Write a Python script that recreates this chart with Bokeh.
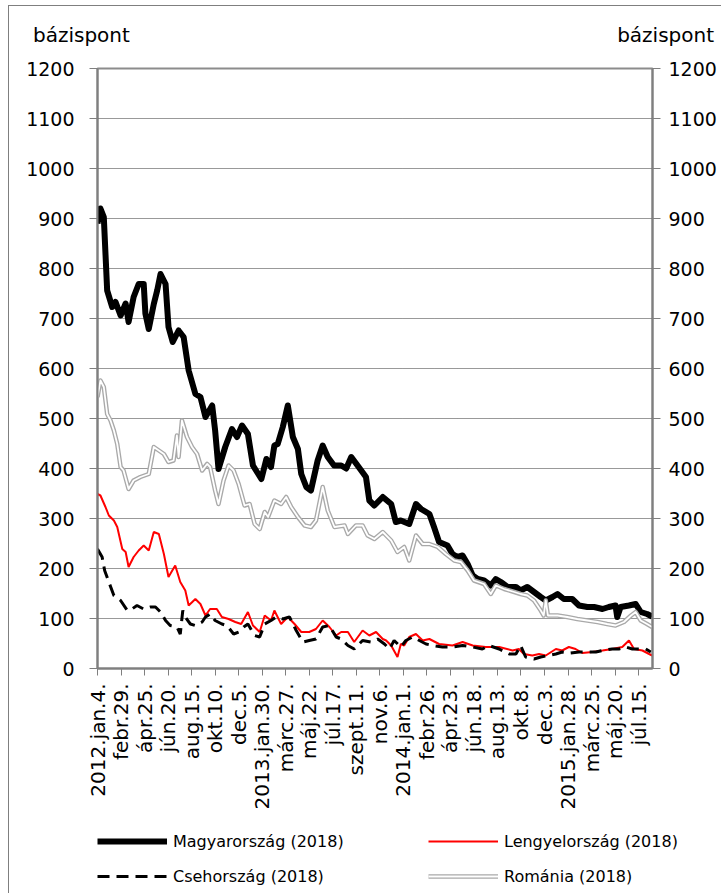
import numpy as np
from bokeh.plotting import figure
from bokeh.layouts import column
from bokeh.models import (Range1d, LinearAxis, FixedTicker, SingleIntervalTicker,
                          Legend, LegendItem, Div)
from bokeh.embed import file_html
from bokeh.resources import INLINE

# ---------------- data (days since 2012-01-04, basis points) ----------------
tick_dates = ["2012-01-04", "2012-02-29", "2012-04-25", "2012-06-20", "2012-08-15",
              "2012-10-10", "2012-12-05", "2013-01-30", "2013-03-27", "2013-05-22",
              "2013-07-17", "2013-09-11", "2013-11-06", "2014-01-01", "2014-02-26",
              "2014-04-23", "2014-06-18", "2014-08-13", "2014-10-08", "2014-12-03",
              "2015-01-28", "2015-03-25", "2015-05-20", "2015-07-15"]
tick_labels = ["2012.jan.4.", "febr.29.", "ápr.25.", "jún.20.", "aug.15.", "okt.10.",
               "dec.5.", "2013.jan.30.", "márc.27.", "máj.22.", "júl.17.", "szept.11.",
               "nov.6.", "2014.jan.1.", "febr.26.", "ápr.23.", "jún.18.", "aug.13.",
               "okt.8.", "dec.3.", "2015.jan.28.", "márc.25.", "máj.20.", "júl.15."]

hu_day = [0, 7, 15, 23, 35, 43, 55, 67, 74, 86, 98, 110, 114, 122, 134, 142, 150, 162,
          169, 179, 193, 205, 217, 233, 245, 257, 273, 280, 288, 304, 320, 332, 344, 358,
          370, 390, 402, 413, 421, 429, 441, 453, 465, 477, 485, 497, 508, 524, 536, 548,
          563, 580, 592, 604, 619, 639, 647, 659, 679, 699, 710, 722, 742, 758, 770, 790,
          801, 813, 833, 845, 857, 869, 881, 893, 905, 920, 936, 948, 960, 976, 996, 1007,
          1023, 1039, 1055, 1067, 1083, 1095, 1110, 1130, 1146, 1166, 1182, 1202, 1217,
          1233, 1237, 1245, 1265, 1281, 1293, 1308, 1320]
hu_bp = [890, 920, 903, 756, 723, 733, 706, 730, 693, 743, 769, 769, 710, 679, 729, 756,
         789, 769, 683, 653, 676, 663, 596, 549, 543, 503, 526, 476, 399, 443, 479, 463,
         486, 469, 406, 379, 419, 403, 446, 449, 483, 526, 463, 439, 389, 363, 356, 416,
         446, 423, 406, 406, 400, 423, 406, 383, 336, 326, 343, 329, 293, 296, 289, 329,
         319, 309, 283, 253, 246, 229, 223, 226, 209, 186, 179, 176, 166, 179, 173, 163,
         163, 156, 163, 153, 143, 136, 143, 149, 139, 139, 126, 123, 123, 119, 123, 126,
         103, 123, 126, 129, 113, 109, 104]

pl_day = [0, 7, 19, 27, 39, 47, 59, 67, 74, 86, 98, 110, 122, 134, 146, 158, 169, 185,
          197, 209, 217, 233, 245, 257, 268, 284, 296, 312, 328, 342, 358, 370, 386, 398,
          413, 421, 437, 453, 469, 485, 504, 520, 536, 552, 568, 580, 596, 611, 631, 647,
          663, 679, 687, 699, 714, 722, 730, 742, 758, 774, 790, 813, 845, 869, 893, 924,
          956, 988, 1003, 1015, 1035, 1051, 1067, 1091, 1106, 1122, 1138, 1154, 1178,
          1202, 1225, 1249, 1265, 1277, 1297, 1313, 1320]
pl_bp = [349, 346, 323, 306, 296, 283, 239, 233, 203, 223, 236, 246, 236, 273, 269, 229,
         183, 206, 173, 156, 126, 139, 129, 106, 119, 119, 103, 99, 93, 89, 113, 86, 73,
         106, 96, 116, 89, 103, 89, 73, 73, 79, 96, 83, 66, 73, 73, 53, 76, 66, 73, 59,
         56, 46, 23, 49, 46, 63, 69, 56, 59, 49, 46, 53, 46, 43, 43, 36, 39, 29, 26, 29,
         26, 39, 36, 43, 39, 31, 33, 36, 39, 43, 56, 39, 36, 29, 26]

cz_day = [0, 11, 17, 27, 39, 55, 71, 82, 94, 110, 126, 138, 150, 162, 173, 189, 197,
          203, 209, 221, 233, 249, 257, 268, 280, 296, 308, 324, 336, 348, 358, 374, 386,
          398, 413, 425, 441, 457, 473, 489, 504, 520, 536, 552, 568, 580, 596, 611, 631,
          651, 667, 683, 695, 706, 722, 734, 750, 766, 782, 798, 821, 845, 869, 893, 916,
          932, 956, 980, 996, 1007, 1019, 1039, 1055, 1074, 1091, 1106, 1126, 1146, 1166,
          1186, 1202, 1225, 1241, 1257, 1273, 1289, 1305, 1317]
cz_bp = [239, 223, 196, 173, 146, 136, 116, 119, 126, 119, 123, 123, 113, 96, 86, 83, 69,
         116, 103, 89, 86, 93, 103, 109, 96, 89, 86, 69, 73, 83, 89, 66, 63, 89, 96, 103,
         99, 103, 76, 53, 56, 59, 83, 86, 63, 59, 46, 39, 56, 53, 59, 49, 39, 56, 43, 56,
         63, 56, 49, 46, 43, 43, 46, 43, 39, 46, 39, 29, 29, 46, 23, 19, 23, 26, 29, 33,
         31, 33, 33, 33, 36, 39, 39, 43, 39, 39, 39, 33]

ro_day = [0, 7, 15, 23, 31, 39, 47, 55, 62, 74, 86, 102, 122, 134, 146, 158, 169, 181,
          189, 193, 201, 213, 225, 237, 249, 261, 268, 280, 288, 300, 312, 324, 336, 350,
          362, 374, 386, 398, 406, 421, 437, 449, 461, 477, 493, 508, 520, 536, 548, 564,
          588, 596, 615, 631, 643, 659, 679, 699, 714, 730, 742, 758, 774, 790, 810, 829,
          849, 865, 881, 896, 920, 936, 948, 968, 992, 1007, 1023, 1039, 1055, 1062, 1067,
          1072, 1095, 1118, 1142, 1166, 1190, 1213, 1233, 1253, 1270, 1281, 1293, 1308,
          1320]
ro_bp = [543, 576, 563, 509, 496, 476, 449, 403, 396, 359, 376, 383, 389, 443, 436, 429,
         413, 416, 466, 423, 496, 463, 443, 429, 396, 409, 403, 356, 329, 376, 406, 396,
         369, 326, 329, 289, 279, 313, 303, 336, 329, 343, 323, 303, 286, 283, 296, 363,
         316, 283, 286, 269, 286, 286, 266, 259, 273, 256, 233, 243, 216, 266, 249, 249,
         243, 229, 216, 213, 196, 176, 169, 149, 166, 159, 153, 149, 146, 136, 116, 106,
         136, 106, 106, 103, 99, 96, 93, 89, 86, 93, 106, 113, 96, 89, 83]

series_names = ["Magyarország (2018)", "Lengyelország (2018)",
                "Csehország (2018)", "Románia (2018)"]
unit_label = "bázispont"

# ---------------- styles ----------------
FONT = "DejaVu Sans"
HU = dict(line_color="black", line_width=6, line_join="round")
RO1 = dict(line_color="#a9a9a9", line_width=4.5, line_join="round")
RO2 = dict(line_color="white", line_width=1.8, line_join="round")
PL = dict(line_color="#ff0000", line_width=2)
CZ = dict(line_color="black", line_width=3, line_dash="12 7")

base = np.datetime64(tick_dates[0])
tick_days = [int((np.datetime64(d) - base).astype(int)) for d in tick_dates]

# ---------------- main figure ----------------
p = figure(width=712, height=769, output_backend="svg", toolbar_location=None,
           x_range=Range1d(0, 1321), y_range=Range1d(0, 1200),
           min_border_left=88, min_border_right=69, min_border_top=14,
           min_border_bottom=155, background_fill_color="white",
           border_fill_color="white")
p.frame_align = False
p.outline_line_color = "#8c8c8c"
p.outline_line_width = 2

p.xgrid.grid_line_color = None
p.ygrid.grid_line_color = "#333333"
p.ygrid.grid_line_dash = "1 1"
p.ygrid.grid_line_width = 1
p.ygrid.ticker = SingleIntervalTicker(interval=100)

xa = p.xaxis[0]
xa.ticker = FixedTicker(ticks=tick_days)
xa.major_label_overrides = {d: lab for d, lab in zip(tick_days, tick_labels)}
xa.major_label_orientation = np.pi / 2
xa.major_label_text_font = FONT
xa.major_label_text_font_size = "20px"
xa.major_label_text_color = "black"
xa.major_label_standoff = 8
xa.major_tick_out = 7
xa.major_tick_in = 0
xa.minor_tick_out = 0
xa.minor_tick_in = 0
xa.axis_line_color = "#7f7f7f"
xa.axis_line_width = 2
xa.major_tick_line_color = "#7f7f7f"

def style_y(ax, standoff):
    ax.ticker = SingleIntervalTicker(interval=100)
    ax.major_label_text_font = FONT
    ax.major_label_text_font_size = "19px"
    ax.major_label_text_color = "black"
    ax.major_label_standoff = standoff
    ax.major_tick_out = 8
    ax.major_tick_in = 0
    ax.minor_tick_out = 0
    ax.minor_tick_in = 0
    ax.axis_line_color = "#7f7f7f"
    ax.axis_line_width = 2
    ax.major_tick_line_color = "#7f7f7f"

style_y(p.yaxis[0], 15)
ra = LinearAxis()
style_y(ra, 8)
p.add_layout(ra, "right")

p.line(hu_day, hu_bp, **HU)
p.line(ro_day, ro_bp, **RO1)
p.line(ro_day, ro_bp, **RO2)
p.line(pl_day, pl_bp, **PL)
p.line(cz_day, cz_bp, **CZ)

# ---------------- legend strip ----------------
lf = figure(width=712, height=70, output_backend="svg", toolbar_location=None,
            x_range=Range1d(0, 1), y_range=Range1d(0, 1),
            x_axis_location=None, y_axis_location=None, min_border=0,
            background_fill_color="white", border_fill_color="white")
lf.frame_align = False
lf.outline_line_color = None
lf.grid.visible = False
nan = [float("nan")]
l_hu = lf.line(nan, nan, **HU)
l_cz = lf.line(nan, nan, **CZ)
l_pl = lf.line(nan, nan, **PL)
l_ro1 = lf.line(nan, nan, **RO1)
l_ro2 = lf.line(nan, nan, **RO2)

def make_legend(items, loc):
    lg = Legend(items=items, location=loc, orientation="vertical",
                glyph_width=70, glyph_height=20, label_height=20,
                label_standoff=6, spacing=15, padding=0, margin=0,
                border_line_alpha=0, background_fill_alpha=0,
                label_text_font=FONT, label_text_font_size="16px",
                label_text_color="black")
    lf.add_layout(lg, "center")

make_legend([LegendItem(label=series_names[0], renderers=[l_hu]),
             LegendItem(label=series_names[2], renderers=[l_cz])], (88, 7))
make_legend([LegendItem(label=series_names[1], renderers=[l_pl]),
             LegendItem(label=series_names[3], renderers=[l_ro1, l_ro2])], (419, 7))

# ---------------- header with unit labels ----------------
header = Div(text=(
    '<div style="position:relative;width:712px;height:48px;'
    "font-family:'DejaVu Sans';font-size:20px;line-height:20px;color:black;\">"
    f'<span style="position:absolute;left:24px;top:19px;white-space:nowrap;">{unit_label}</span>'
    f'<span style="position:absolute;right:7px;top:19px;white-space:nowrap;">{unit_label}</span>'
    '</div>'), width=712, height=48, margin=0)

layout = column(header, p, lf, spacing=0, margin=(5, 0, 0, 8),
                styles={"border-left": "1px solid #7f7f7f",
                        "border-top": "1px solid #7f7f7f"})

open("out.html", "w").write(file_html(layout, INLINE))
